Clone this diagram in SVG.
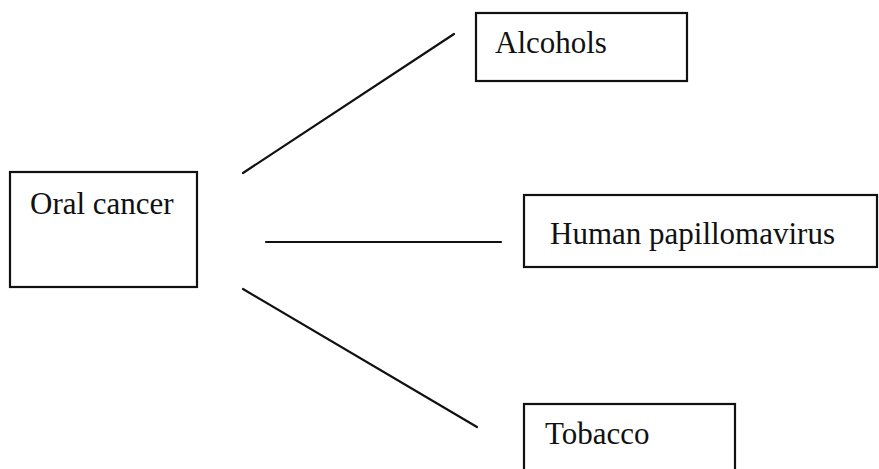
<svg xmlns="http://www.w3.org/2000/svg" width="879" height="469" viewBox="0 0 879 469">
<style>
.box{fill:#fff;stroke:#111;stroke-width:2.2}
.lbl{font-family:"Liberation Serif","Times New Roman",serif;font-size:31px;fill:#111}
.conn{stroke:#111;stroke-width:2.2;fill:none;stroke-linecap:round}
</style>
<rect width="879" height="469" fill="#fff"/>
<g id="connectors">
<line class="conn" x1="243" y1="173" x2="454" y2="34"/>
<line class="conn" x1="266" y1="242" x2="501" y2="242"/>
<line class="conn" x1="243" y1="289" x2="477" y2="427"/>
</g>
<g id="oral-cancer">
<rect class="box" x="10" y="172" width="187" height="115"/>
<text class="lbl" x="30" y="214">Oral cancer</text>
</g>
<g id="alcohols">
<rect class="box" x="476" y="13" width="211" height="68"/>
<text class="lbl" x="495" y="53">Alcohols</text>
</g>
<g id="hpv">
<rect class="box" x="524" y="195" width="353" height="72"/>
<text class="lbl" x="550" y="244">Human papillomavirus</text>
</g>
<g id="tobacco">
<rect class="box" x="524" y="404" width="211" height="80"/>
<text class="lbl" x="545" y="444">Tobacco</text>
</g>
</svg>
